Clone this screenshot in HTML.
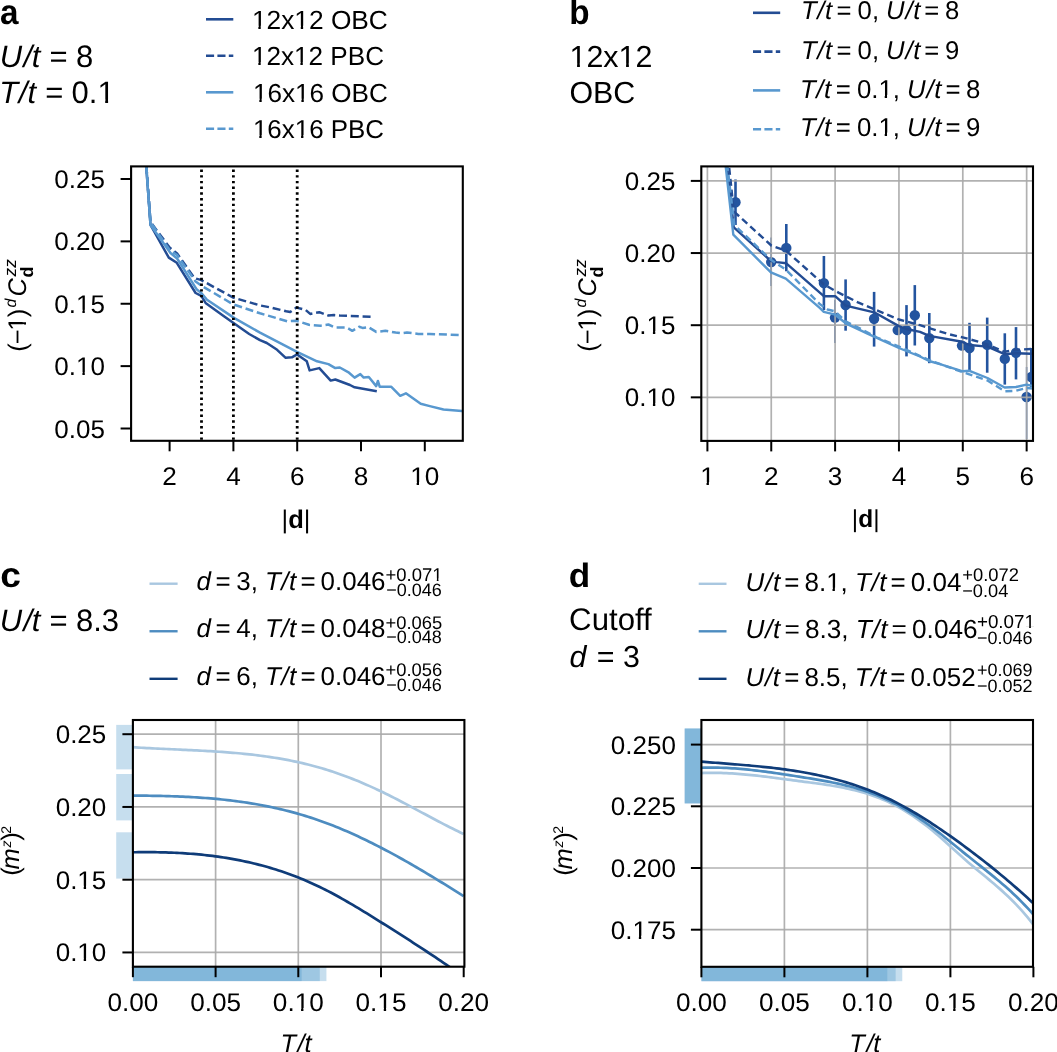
<!DOCTYPE html>
<html><head><meta charset="utf-8"><style>
html,body{margin:0;padding:0;background:#fff;}
svg{display:block;will-change:transform;}
text{fill:#000;text-rendering:geometricPrecision;}
</style></head><body>
<svg width="1057" height="1052" viewBox="0 0 1057 1052" font-family="Liberation Sans">
<rect width="1057" height="1052" fill="#fff"/>
<defs><clipPath id="ca"><rect x="131.1" y="166.4" width="331.7" height="274.4"/></clipPath><clipPath id="cb"><rect x="701.3" y="166.4" width="331.7" height="274.5"/></clipPath><clipPath id="cc"><rect x="132.9" y="720" width="331.5" height="246.7"/></clipPath><clipPath id="cd"><rect x="701.4" y="720" width="331.6" height="246.8"/></clipPath></defs>
<polyline points="137.7,48.0 150.5,225.0 168.8,257.6 176.8,262.8 195.6,293.0 201.3,295.9 205.9,303.3 222.9,315.5 232.1,322.1 249.2,334.0 260.0,340.1 266.8,343.0 277.1,349.8 285.7,357.8 291.9,357.3 297.1,354.4 306.8,361.3 309.6,370.4 319.3,368.1 330.7,380.6 335.3,379.5 350.0,385.0 354.6,387.3 376.8,391.3" fill="none" stroke="#234c93" stroke-width="2.5" stroke-linejoin="round" stroke-linecap="butt" clip-path="url(#ca)"/>
<polyline points="137.7,48.0 150.5,222.0 169.6,247.5 174.5,251.4 177.1,253.5 194.5,278.2 200.8,279.9 233.3,297.6 260.0,305.4 271.4,307.6 286.2,311.3 290.2,312.0 296.5,307.6 305.6,309.9 310.2,313.9 319.3,312.2 328.4,315.6 334.1,315.1 339.8,315.6 372.8,316.8" fill="none" stroke="#234c93" stroke-width="2.5" stroke-linejoin="round" stroke-linecap="butt" stroke-dasharray="8 3.8" clip-path="url(#ca)"/>
<polyline points="137.7,48.0 150.5,225.0 170.5,253.0 177.1,258.5 196.8,289.6 201.3,293.0 207.0,299.8 234.4,318.1 260.0,332.7 296.5,351.6 317.0,361.3 328.4,364.1 335.3,368.1 339.8,367.5 349.0,372.7 354.6,377.6 360.3,374.1 363.7,377.6 368.8,377.0 376.2,386.1 377.9,381.0 379.7,386.7 391.1,386.7 400.2,395.8 405.9,393.3 420.7,403.8 429.8,406.1 443.5,409.5 461.8,410.9 470.0,411.5" fill="none" stroke="#5898cf" stroke-width="2.5" stroke-linejoin="round" stroke-linecap="butt" clip-path="url(#ca)"/>
<polyline points="137.7,48.0 150.5,222.0 169.6,250.0 177.1,255.0 195.6,281.6 201.3,285.6 233.3,304.4 260.0,313.3 287.4,321.3 296.5,320.8 309.0,324.8 320.5,325.7 328.4,324.5 335.3,327.6 346.7,327.6 352.3,330.8 359.1,326.8 362.5,327.9 368.3,327.1 376.2,331.9 385.4,330.8 395.6,332.5 401.3,333.3 407.0,332.5 418.4,334.0 429.8,334.0 461.8,335.1 470.0,335.2" fill="none" stroke="#5898cf" stroke-width="2.5" stroke-linejoin="round" stroke-linecap="butt" stroke-dasharray="8 3.8" clip-path="url(#ca)"/>
<line x1="201.50" y1="169.50" x2="201.50" y2="440.80" stroke="#000" stroke-width="2.8" stroke-dasharray="2.4 3.3"/>
<line x1="233.40" y1="169.50" x2="233.40" y2="440.80" stroke="#000" stroke-width="2.8" stroke-dasharray="2.4 3.3"/>
<line x1="297.20" y1="169.50" x2="297.20" y2="440.80" stroke="#000" stroke-width="2.8" stroke-dasharray="2.4 3.3"/>
<rect x="131.10" y="166.40" width="331.70" height="274.40" fill="none" stroke="#000" stroke-width="2.1"/>
<line x1="120.60" y1="179.00" x2="131.10" y2="179.00" stroke="#000" stroke-width="2"/>
<text transform="translate(105.00,188.00) scale(1.0200,1)" font-size="25.5" text-anchor="end" font-weight="normal" font-style="normal">0.25</text>
<line x1="120.60" y1="241.38" x2="131.10" y2="241.38" stroke="#000" stroke-width="2"/>
<text transform="translate(105.00,250.38) scale(1.0200,1)" font-size="25.5" text-anchor="end" font-weight="normal" font-style="normal">0.20</text>
<line x1="120.60" y1="303.75" x2="131.10" y2="303.75" stroke="#000" stroke-width="2"/>
<text transform="translate(105.00,312.75) scale(1.0200,1)" font-size="25.5" text-anchor="end" font-weight="normal" font-style="normal">0.15</text>
<line x1="120.60" y1="366.12" x2="131.10" y2="366.12" stroke="#000" stroke-width="2"/>
<text transform="translate(105.00,375.12) scale(1.0200,1)" font-size="25.5" text-anchor="end" font-weight="normal" font-style="normal">0.10</text>
<line x1="120.60" y1="428.50" x2="131.10" y2="428.50" stroke="#000" stroke-width="2"/>
<text transform="translate(105.00,437.50) scale(1.0200,1)" font-size="25.5" text-anchor="end" font-weight="normal" font-style="normal">0.05</text>
<line x1="169.60" y1="440.80" x2="169.60" y2="451.30" stroke="#000" stroke-width="2"/>
<text transform="translate(169.60,485.00) scale(1.0250,1)" font-size="25.5" text-anchor="middle" font-weight="normal" font-style="normal">2</text>
<line x1="233.40" y1="440.80" x2="233.40" y2="451.30" stroke="#000" stroke-width="2"/>
<text transform="translate(233.40,485.00) scale(1.0250,1)" font-size="25.5" text-anchor="middle" font-weight="normal" font-style="normal">4</text>
<line x1="297.20" y1="440.80" x2="297.20" y2="451.30" stroke="#000" stroke-width="2"/>
<text transform="translate(297.20,485.00) scale(1.0250,1)" font-size="25.5" text-anchor="middle" font-weight="normal" font-style="normal">6</text>
<line x1="361.00" y1="440.80" x2="361.00" y2="451.30" stroke="#000" stroke-width="2"/>
<text transform="translate(361.00,485.00) scale(1.0250,1)" font-size="25.5" text-anchor="middle" font-weight="normal" font-style="normal">8</text>
<line x1="424.80" y1="440.80" x2="424.80" y2="451.30" stroke="#000" stroke-width="2"/>
<text transform="translate(424.80,485.00) scale(1.0250,1)" font-size="25.5" text-anchor="middle" font-weight="normal" font-style="normal">10</text>
<g clip-path="url(#cb)">
<line x1="735.50" y1="179.40" x2="735.50" y2="225.00" stroke="#23549f" stroke-width="2.6"/>
<circle cx="735.5" cy="202.2" r="5.2" fill="#23549f"/>
<line x1="771.20" y1="237.50" x2="771.20" y2="286.00" stroke="#23549f" stroke-width="1.5"/>
<circle cx="771.2" cy="262.1" r="5.2" fill="#23549f"/>
<line x1="786.30" y1="223.90" x2="786.30" y2="271.30" stroke="#23549f" stroke-width="2.6"/>
<circle cx="786.3" cy="247.9" r="5.2" fill="#23549f"/>
<line x1="823.90" y1="256.00" x2="823.90" y2="310.10" stroke="#23549f" stroke-width="2.6"/>
<circle cx="823.9" cy="283.1" r="5.2" fill="#23549f"/>
<line x1="835.00" y1="300.00" x2="835.00" y2="343.00" stroke="#23549f" stroke-width="1.5"/>
<circle cx="835.0" cy="317.6" r="5.2" fill="#23549f"/>
<line x1="845.60" y1="279.40" x2="845.60" y2="330.70" stroke="#23549f" stroke-width="2.6"/>
<circle cx="845.6" cy="305.0" r="5.2" fill="#23549f"/>
<line x1="874.10" y1="291.90" x2="874.10" y2="346.60" stroke="#23549f" stroke-width="2.6"/>
<circle cx="874.1" cy="318.7" r="5.2" fill="#23549f"/>
<circle cx="897.7" cy="330.1" r="5.2" fill="#23549f"/>
<line x1="906.50" y1="305.10" x2="906.50" y2="356.40" stroke="#23549f" stroke-width="2.6"/>
<circle cx="906.5" cy="330.1" r="5.2" fill="#23549f"/>
<line x1="914.80" y1="285.10" x2="914.80" y2="345.50" stroke="#23549f" stroke-width="2.6"/>
<circle cx="914.8" cy="315.3" r="5.2" fill="#23549f"/>
<line x1="929.30" y1="313.00" x2="929.30" y2="363.20" stroke="#23549f" stroke-width="2.6"/>
<circle cx="929.3" cy="338.1" r="5.2" fill="#23549f"/>
<circle cx="962.0" cy="345.6" r="5.2" fill="#23549f"/>
<line x1="969.50" y1="322.80" x2="969.50" y2="370.30" stroke="#23549f" stroke-width="2.6"/>
<circle cx="969.5" cy="348.0" r="5.2" fill="#23549f"/>
<line x1="987.20" y1="317.60" x2="987.20" y2="372.70" stroke="#23549f" stroke-width="2.6"/>
<circle cx="987.2" cy="344.7" r="5.2" fill="#23549f"/>
<line x1="1004.80" y1="333.30" x2="1004.80" y2="384.60" stroke="#23549f" stroke-width="2.6"/>
<circle cx="1004.8" cy="358.9" r="5.2" fill="#23549f"/>
<line x1="1016.00" y1="327.10" x2="1016.00" y2="379.40" stroke="#23549f" stroke-width="2.6"/>
<circle cx="1016.0" cy="352.8" r="5.2" fill="#23549f"/>
<line x1="1031.30" y1="348.00" x2="1031.30" y2="387.00" stroke="#23549f" stroke-width="2.6"/>
<circle cx="1031.3" cy="377.0" r="5.2" fill="#23549f"/>
<line x1="1026.60" y1="367.00" x2="1026.60" y2="439.00" stroke="#23549f" stroke-width="1.5"/>
<circle cx="1026.6" cy="397.0" r="5.2" fill="#23549f"/>
</g>
<line x1="707.40" y1="166.40" x2="707.40" y2="440.90" stroke="#a9a9a9" stroke-width="1.7" stroke-opacity="0.9"/>
<line x1="771.25" y1="166.40" x2="771.25" y2="440.90" stroke="#a9a9a9" stroke-width="1.7" stroke-opacity="0.9"/>
<line x1="835.10" y1="166.40" x2="835.10" y2="440.90" stroke="#a9a9a9" stroke-width="1.7" stroke-opacity="0.9"/>
<line x1="898.95" y1="166.40" x2="898.95" y2="440.90" stroke="#a9a9a9" stroke-width="1.7" stroke-opacity="0.9"/>
<line x1="962.80" y1="166.40" x2="962.80" y2="440.90" stroke="#a9a9a9" stroke-width="1.7" stroke-opacity="0.9"/>
<line x1="1026.65" y1="166.40" x2="1026.65" y2="440.90" stroke="#a9a9a9" stroke-width="1.7" stroke-opacity="0.9"/>
<line x1="701.30" y1="180.90" x2="1033.00" y2="180.90" stroke="#a9a9a9" stroke-width="1.7" stroke-opacity="0.9"/>
<line x1="701.30" y1="253.05" x2="1033.00" y2="253.05" stroke="#a9a9a9" stroke-width="1.7" stroke-opacity="0.9"/>
<line x1="701.30" y1="325.20" x2="1033.00" y2="325.20" stroke="#a9a9a9" stroke-width="1.7" stroke-opacity="0.9"/>
<line x1="701.30" y1="397.35" x2="1033.00" y2="397.35" stroke="#a9a9a9" stroke-width="1.7" stroke-opacity="0.9"/>
<polyline points="707.4,-10.0 733.8,227.3 770.9,261.0 776.6,262.1 786.3,263.3 823.8,296.2 835.2,296.2 845.7,305.7 874.2,312.3 898.9,326.1 906.5,329.0 920.0,331.8 929.3,335.9 962.1,341.8 969.5,345.0 987.5,346.6 1004.6,354.2 1016.0,353.2 1031.3,353.7 1040.0,353.7" fill="none" stroke="#234c93" stroke-width="2.4" stroke-linejoin="round" stroke-linecap="butt" clip-path="url(#cb)"/>
<polyline points="707.4,-40.0 733.8,211.4 771.3,245.5 786.3,251.0 823.9,284.5 839.0,292.9 858.0,302.4 877.0,310.4 898.9,319.5 920.0,325.2 948.4,334.1 962.7,337.4 982.8,342.8 1004.6,351.8 1016.0,349.9 1031.3,349.0 1040.0,349.0" fill="none" stroke="#234c93" stroke-width="2.4" stroke-linejoin="round" stroke-linecap="butt" stroke-dasharray="7 4" clip-path="url(#cb)"/>
<polyline points="707.4,2.0 733.3,234.7 770.9,272.4 785.8,278.7 820.0,308.1 823.8,311.9 835.2,314.7 845.7,323.3 867.5,333.7 898.9,348.0 920.0,356.5 929.0,361.0 940.0,364.2 962.8,371.3 969.5,370.8 987.5,378.0 1004.6,387.5 1016.0,387.0 1026.5,384.6 1031.3,385.6 1040.0,385.6" fill="none" stroke="#5898cf" stroke-width="2.4" stroke-linejoin="round" stroke-linecap="butt" clip-path="url(#cb)"/>
<polyline points="707.4,0.0 734.4,225.0 771.2,260.0 786.3,270.0 820.0,304.3 827.6,309.5 835.2,311.4 845.7,321.4 862.8,329.9 877.0,337.5 899.0,346.5 929.0,360.0 962.8,372.2 987.5,380.5 1004.6,391.3 1016.0,390.8 1026.5,387.9 1040.0,389.0" fill="none" stroke="#5898cf" stroke-width="2.4" stroke-linejoin="round" stroke-linecap="butt" stroke-dasharray="7 4" clip-path="url(#cb)"/>
<rect x="701.30" y="166.40" width="331.70" height="274.50" fill="none" stroke="#000" stroke-width="2.1"/>
<line x1="690.80" y1="180.90" x2="701.30" y2="180.90" stroke="#000" stroke-width="2"/>
<text transform="translate(675.50,189.90) scale(1.0200,1)" font-size="25.5" text-anchor="end" font-weight="normal" font-style="normal">0.25</text>
<line x1="690.80" y1="253.05" x2="701.30" y2="253.05" stroke="#000" stroke-width="2"/>
<text transform="translate(675.50,262.05) scale(1.0200,1)" font-size="25.5" text-anchor="end" font-weight="normal" font-style="normal">0.20</text>
<line x1="690.80" y1="325.20" x2="701.30" y2="325.20" stroke="#000" stroke-width="2"/>
<text transform="translate(675.50,334.20) scale(1.0200,1)" font-size="25.5" text-anchor="end" font-weight="normal" font-style="normal">0.15</text>
<line x1="690.80" y1="397.35" x2="701.30" y2="397.35" stroke="#000" stroke-width="2"/>
<text transform="translate(675.50,406.35) scale(1.0200,1)" font-size="25.5" text-anchor="end" font-weight="normal" font-style="normal">0.10</text>
<line x1="707.40" y1="440.90" x2="707.40" y2="451.40" stroke="#000" stroke-width="2"/>
<text transform="translate(707.40,485.00) scale(1.0250,1)" font-size="25.5" text-anchor="middle" font-weight="normal" font-style="normal">1</text>
<line x1="771.25" y1="440.90" x2="771.25" y2="451.40" stroke="#000" stroke-width="2"/>
<text transform="translate(771.25,485.00) scale(1.0250,1)" font-size="25.5" text-anchor="middle" font-weight="normal" font-style="normal">2</text>
<line x1="835.10" y1="440.90" x2="835.10" y2="451.40" stroke="#000" stroke-width="2"/>
<text transform="translate(835.10,485.00) scale(1.0250,1)" font-size="25.5" text-anchor="middle" font-weight="normal" font-style="normal">3</text>
<line x1="898.95" y1="440.90" x2="898.95" y2="451.40" stroke="#000" stroke-width="2"/>
<text transform="translate(898.95,485.00) scale(1.0250,1)" font-size="25.5" text-anchor="middle" font-weight="normal" font-style="normal">4</text>
<line x1="962.80" y1="440.90" x2="962.80" y2="451.40" stroke="#000" stroke-width="2"/>
<text transform="translate(962.80,485.00) scale(1.0250,1)" font-size="25.5" text-anchor="middle" font-weight="normal" font-style="normal">5</text>
<line x1="1026.65" y1="440.90" x2="1026.65" y2="451.40" stroke="#000" stroke-width="2"/>
<text transform="translate(1026.65,485.00) scale(1.0250,1)" font-size="25.5" text-anchor="middle" font-weight="normal" font-style="normal">6</text>
<rect x="116.20" y="724.90" width="16.70" height="44.50" fill="#4292c6" fill-opacity="0.3"/>
<rect x="116.20" y="774.00" width="16.70" height="46.40" fill="#4292c6" fill-opacity="0.3"/>
<rect x="116.20" y="832.30" width="16.70" height="46.30" fill="#4292c6" fill-opacity="0.3"/>
<rect x="132.90" y="966.70" width="193.52" height="14.40" fill="#4292c6" fill-opacity="0.3"/>
<rect x="132.90" y="966.70" width="186.90" height="14.40" fill="#4292c6" fill-opacity="0.3"/>
<rect x="132.90" y="966.70" width="168.71" height="14.40" fill="#4292c6" fill-opacity="0.3"/>
<line x1="215.60" y1="720.00" x2="215.60" y2="966.70" stroke="#a9a9a9" stroke-width="1.7" stroke-opacity="0.9"/>
<line x1="298.30" y1="720.00" x2="298.30" y2="966.70" stroke="#a9a9a9" stroke-width="1.7" stroke-opacity="0.9"/>
<line x1="381.00" y1="720.00" x2="381.00" y2="966.70" stroke="#a9a9a9" stroke-width="1.7" stroke-opacity="0.9"/>
<line x1="132.90" y1="734.20" x2="464.40" y2="734.20" stroke="#a9a9a9" stroke-width="1.7" stroke-opacity="0.9"/>
<line x1="132.90" y1="806.95" x2="464.40" y2="806.95" stroke="#a9a9a9" stroke-width="1.7" stroke-opacity="0.9"/>
<line x1="132.90" y1="879.70" x2="464.40" y2="879.70" stroke="#a9a9a9" stroke-width="1.7" stroke-opacity="0.9"/>
<line x1="132.90" y1="952.45" x2="464.40" y2="952.45" stroke="#a9a9a9" stroke-width="1.7" stroke-opacity="0.9"/>
<polyline points="132.90,747.22 135.68,747.40 138.46,747.58 141.24,747.74 144.02,747.90 146.79,748.05 149.57,748.20 152.35,748.35 155.13,748.49 157.91,748.63 160.69,748.76 163.47,748.89 166.25,749.02 169.03,749.15 171.81,749.27 174.58,749.40 177.36,749.52 180.14,749.65 182.92,749.78 185.70,749.90 188.48,750.03 191.26,750.17 194.04,750.30 196.82,750.44 199.60,750.58 202.37,750.73 205.15,750.88 207.93,751.04 210.71,751.20 213.49,751.37 216.27,751.55 219.05,751.73 221.83,751.93 224.61,752.13 227.39,752.34 230.16,752.55 232.94,752.78 235.72,753.02 238.50,753.27 241.28,753.53 244.06,753.81 246.84,754.09 249.62,754.39 252.40,754.70 255.18,755.03 257.95,755.37 260.73,755.72 263.51,756.09 266.29,756.48 269.07,756.88 271.85,757.30 274.63,757.74 277.41,758.19 280.19,758.66 282.97,759.16 285.74,759.67 288.52,760.20 291.30,760.75 294.08,761.32 296.86,761.92 299.64,762.53 302.42,763.17 305.20,763.83 307.98,764.52 310.76,765.22 313.53,765.96 316.31,766.71 319.09,767.50 321.87,768.31 324.65,769.14 327.43,770.00 330.21,770.89 332.99,771.80 335.77,772.73 338.55,773.70 341.32,774.68 344.10,775.69 346.88,776.73 349.66,777.79 352.44,778.87 355.22,779.98 358.00,781.11 360.78,782.27 363.56,783.45 366.34,784.65 369.11,785.87 371.89,787.12 374.67,788.39 377.45,789.68 380.23,791.00 383.01,792.33 385.79,793.69 388.57,795.07 391.35,796.47 394.13,797.88 396.90,799.31 399.68,800.75 402.46,802.20 405.24,803.66 408.02,805.14 410.80,806.61 413.58,808.10 416.36,809.59 419.14,811.08 421.92,812.57 424.69,814.06 427.47,815.55 430.25,817.03 433.03,818.51 435.81,819.99 438.59,821.45 441.37,822.90 444.15,824.34 446.93,825.77 449.71,827.19 452.48,828.58 455.26,829.96 458.04,831.32 460.82,832.66 463.60,833.97" fill="none" stroke="#a9c7e0" stroke-width="2.7" stroke-linejoin="round" clip-path="url(#cc)"/>
<polyline points="132.90,795.63 135.68,795.64 138.46,795.65 141.24,795.67 144.02,795.69 146.79,795.72 149.57,795.75 152.35,795.79 155.13,795.83 157.91,795.88 160.69,795.94 163.47,796.00 166.25,796.07 169.03,796.15 171.81,796.24 174.58,796.33 177.36,796.43 180.14,796.54 182.92,796.66 185.70,796.79 188.48,796.93 191.26,797.08 194.04,797.24 196.82,797.41 199.60,797.60 202.37,797.79 205.15,797.99 207.93,798.21 210.71,798.44 213.49,798.68 216.27,798.94 219.05,799.20 221.83,799.49 224.61,799.78 227.39,800.09 230.16,800.42 232.94,800.75 235.72,801.11 238.50,801.48 241.28,801.86 244.06,802.27 246.84,802.69 249.62,803.12 252.40,803.57 255.18,804.04 257.95,804.53 260.73,805.04 263.51,805.56 266.29,806.10 269.07,806.67 271.85,807.25 274.63,807.85 277.41,808.47 280.19,809.11 282.97,809.78 285.74,810.46 288.52,811.16 291.30,811.89 294.08,812.64 296.86,813.41 299.64,814.20 302.42,815.02 305.20,815.86 307.98,816.72 310.76,817.61 313.53,818.52 316.31,819.46 319.09,820.42 321.87,821.40 324.65,822.41 327.43,823.45 330.21,824.51 332.99,825.59 335.77,826.70 338.55,827.83 341.32,828.98 344.10,830.16 346.88,831.36 349.66,832.57 352.44,833.81 355.22,835.07 358.00,836.35 360.78,837.66 363.56,838.98 366.34,840.31 369.11,841.67 371.89,843.05 374.67,844.44 377.45,845.85 380.23,847.28 383.01,848.73 385.79,850.19 388.57,851.67 391.35,853.16 394.13,854.67 396.90,856.19 399.68,857.73 402.46,859.28 405.24,860.85 408.02,862.42 410.80,864.01 413.58,865.62 416.36,867.23 419.14,868.86 421.92,870.50 424.69,872.15 427.47,873.80 430.25,875.47 433.03,877.15 435.81,878.84 438.59,880.54 441.37,882.24 444.15,883.96 446.93,885.68 449.71,887.40 452.48,889.14 455.26,890.88 458.04,892.63 460.82,894.38 463.60,896.14" fill="none" stroke="#4d8cc0" stroke-width="2.7" stroke-linejoin="round" clip-path="url(#cc)"/>
<polyline points="132.90,852.27 135.65,852.23 138.40,852.20 141.15,852.18 143.89,852.17 146.64,852.16 149.39,852.17 152.14,852.19 154.89,852.21 157.64,852.25 160.39,852.31 163.14,852.37 165.88,852.45 168.63,852.53 171.38,852.64 174.13,852.75 176.88,852.88 179.63,853.02 182.38,853.18 185.13,853.35 187.87,853.54 190.62,853.74 193.37,853.96 196.12,854.19 198.87,854.44 201.62,854.71 204.37,854.99 207.12,855.30 209.86,855.62 212.61,855.95 215.36,856.31 218.11,856.69 220.86,857.08 223.61,857.50 226.36,857.93 229.11,858.38 231.85,858.86 234.60,859.36 237.35,859.87 240.10,860.41 242.85,860.97 245.60,861.56 248.35,862.16 251.10,862.79 253.84,863.44 256.59,864.12 259.34,864.82 262.09,865.54 264.84,866.29 267.59,867.07 270.34,867.87 273.09,868.69 275.83,869.54 278.58,870.42 281.33,871.33 284.08,872.26 286.83,873.22 289.58,874.21 292.33,875.22 295.08,876.26 297.82,877.34 300.57,878.44 303.32,879.57 306.07,880.73 308.82,881.92 311.57,883.15 314.32,884.40 317.07,885.68 319.81,887.00 322.56,888.35 325.31,889.73 328.06,891.13 330.81,892.57 333.56,894.03 336.31,895.52 339.06,897.03 341.80,898.57 344.55,900.13 347.30,901.71 350.05,903.30 352.80,904.92 355.55,906.55 358.30,908.20 361.05,909.86 363.79,911.53 366.54,913.22 369.29,914.91 372.04,916.62 374.79,918.33 377.54,920.05 380.29,921.77 383.04,923.50 385.78,925.23 388.53,926.96 391.28,928.70 394.03,930.44 396.78,932.18 399.53,933.93 402.28,935.69 405.03,937.45 407.77,939.21 410.52,940.98 413.27,942.76 416.02,944.55 418.77,946.34 421.52,948.13 424.27,949.94 427.02,951.75 429.76,953.57 432.51,955.40 435.26,957.23 438.01,959.08 440.76,960.93 443.51,962.80 446.26,964.67 449.01,966.56 451.75,968.45 454.50,970.35 457.25,972.27 460.00,974.20" fill="none" stroke="#0f3c79" stroke-width="2.7" stroke-linejoin="round" clip-path="url(#cc)"/>
<rect x="132.90" y="720.00" width="331.50" height="246.70" fill="none" stroke="#000" stroke-width="2.1"/>
<line x1="122.40" y1="734.20" x2="132.90" y2="734.20" stroke="#000" stroke-width="2"/>
<text transform="translate(106.30,743.20) scale(1.0200,1)" font-size="25.5" text-anchor="end" font-weight="normal" font-style="normal">0.25</text>
<line x1="122.40" y1="806.95" x2="132.90" y2="806.95" stroke="#000" stroke-width="2"/>
<text transform="translate(106.30,815.95) scale(1.0200,1)" font-size="25.5" text-anchor="end" font-weight="normal" font-style="normal">0.20</text>
<line x1="122.40" y1="879.70" x2="132.90" y2="879.70" stroke="#000" stroke-width="2"/>
<text transform="translate(106.30,888.70) scale(1.0200,1)" font-size="25.5" text-anchor="end" font-weight="normal" font-style="normal">0.15</text>
<line x1="122.40" y1="952.45" x2="132.90" y2="952.45" stroke="#000" stroke-width="2"/>
<text transform="translate(106.30,961.45) scale(1.0200,1)" font-size="25.5" text-anchor="end" font-weight="normal" font-style="normal">0.10</text>
<line x1="132.90" y1="966.70" x2="132.90" y2="977.20" stroke="#000" stroke-width="2"/>
<text transform="translate(132.90,1011.00) scale(1.0250,1)" font-size="25.5" text-anchor="middle" font-weight="normal" font-style="normal">0.00</text>
<line x1="215.60" y1="966.70" x2="215.60" y2="977.20" stroke="#000" stroke-width="2"/>
<text transform="translate(215.60,1011.00) scale(1.0250,1)" font-size="25.5" text-anchor="middle" font-weight="normal" font-style="normal">0.05</text>
<line x1="298.30" y1="966.70" x2="298.30" y2="977.20" stroke="#000" stroke-width="2"/>
<text transform="translate(298.30,1011.00) scale(1.0250,1)" font-size="25.5" text-anchor="middle" font-weight="normal" font-style="normal">0.10</text>
<line x1="381.00" y1="966.70" x2="381.00" y2="977.20" stroke="#000" stroke-width="2"/>
<text transform="translate(381.00,1011.00) scale(1.0250,1)" font-size="25.5" text-anchor="middle" font-weight="normal" font-style="normal">0.15</text>
<line x1="463.70" y1="966.70" x2="463.70" y2="977.20" stroke="#000" stroke-width="2"/>
<text transform="translate(463.70,1011.00) scale(1.0250,1)" font-size="25.5" text-anchor="middle" font-weight="normal" font-style="normal">0.20</text>
<rect x="684.70" y="728.50" width="16.70" height="74.90" fill="#4292c6" fill-opacity="0.3"/>
<rect x="684.70" y="728.50" width="16.70" height="74.90" fill="#4292c6" fill-opacity="0.3"/>
<rect x="684.70" y="728.50" width="16.70" height="74.90" fill="#4292c6" fill-opacity="0.3"/>
<rect x="701.40" y="966.80" width="200.86" height="14.40" fill="#4292c6" fill-opacity="0.3"/>
<rect x="701.40" y="966.80" width="194.22" height="14.40" fill="#4292c6" fill-opacity="0.3"/>
<rect x="701.40" y="966.80" width="185.92" height="14.40" fill="#4292c6" fill-opacity="0.3"/>
<line x1="784.40" y1="720.00" x2="784.40" y2="966.80" stroke="#a9a9a9" stroke-width="1.7" stroke-opacity="0.9"/>
<line x1="867.40" y1="720.00" x2="867.40" y2="966.80" stroke="#a9a9a9" stroke-width="1.7" stroke-opacity="0.9"/>
<line x1="950.40" y1="720.00" x2="950.40" y2="966.80" stroke="#a9a9a9" stroke-width="1.7" stroke-opacity="0.9"/>
<line x1="701.40" y1="744.60" x2="1033.00" y2="744.60" stroke="#a9a9a9" stroke-width="1.7" stroke-opacity="0.9"/>
<line x1="701.40" y1="806.30" x2="1033.00" y2="806.30" stroke="#a9a9a9" stroke-width="1.7" stroke-opacity="0.9"/>
<line x1="701.40" y1="868.00" x2="1033.00" y2="868.00" stroke="#a9a9a9" stroke-width="1.7" stroke-opacity="0.9"/>
<line x1="701.40" y1="929.70" x2="1033.00" y2="929.70" stroke="#a9a9a9" stroke-width="1.7" stroke-opacity="0.9"/>
<polyline points="701.40,773.06 704.19,772.96 706.97,772.89 709.76,772.85 712.55,772.84 715.33,772.86 718.12,772.90 720.91,772.97 723.69,773.06 726.48,773.18 729.27,773.31 732.05,773.47 734.84,773.65 737.63,773.85 740.41,774.07 743.20,774.30 745.98,774.56 748.77,774.82 751.56,775.10 754.34,775.40 757.13,775.70 759.92,776.02 762.70,776.35 765.49,776.68 768.28,777.03 771.06,777.38 773.85,777.74 776.64,778.10 779.42,778.47 782.21,778.84 785.00,779.22 787.78,779.59 790.57,779.96 793.36,780.34 796.14,780.71 798.93,781.08 801.72,781.44 804.50,781.80 807.29,782.16 810.08,782.52 812.86,782.89 815.65,783.26 818.44,783.64 821.22,784.03 824.01,784.43 826.79,784.84 829.58,785.27 832.37,785.72 835.15,786.19 837.94,786.68 840.73,787.20 843.51,787.74 846.30,788.32 849.09,788.92 851.87,789.56 854.66,790.24 857.45,790.95 860.23,791.70 863.02,792.49 865.81,793.33 868.59,794.22 871.38,795.15 874.17,796.13 876.95,797.17 879.74,798.26 882.53,799.41 885.31,800.62 888.10,801.89 890.89,803.22 893.67,804.62 896.46,806.08 899.25,807.60 902.03,809.19 904.82,810.85 907.61,812.56 910.39,814.34 913.18,816.18 915.96,818.08 918.75,820.05 921.54,822.07 924.32,824.15 927.11,826.30 929.90,828.50 932.68,830.77 935.47,833.09 938.26,835.47 941.04,837.90 943.83,840.38 946.62,842.89 949.40,845.42 952.19,847.96 954.98,850.51 957.76,853.05 960.55,855.56 963.34,858.05 966.12,860.50 968.91,862.91 971.70,865.27 974.48,867.61 977.27,869.92 980.06,872.22 982.84,874.52 985.63,876.82 988.42,879.12 991.20,881.45 993.99,883.81 996.77,886.20 999.56,888.63 1002.35,891.12 1005.13,893.67 1007.92,896.28 1010.71,898.97 1013.49,901.75 1016.28,904.62 1019.07,907.59 1021.85,910.67 1024.64,913.87 1027.43,917.20 1030.21,920.66 1033.00,924.26" fill="none" stroke="#a9c7e0" stroke-width="2.7" stroke-linejoin="round" clip-path="url(#cd)"/>
<polyline points="701.40,767.77 704.19,767.68 706.97,767.62 709.76,767.59 712.55,767.59 715.33,767.62 718.12,767.67 720.91,767.75 723.69,767.85 726.48,767.97 729.27,768.11 732.05,768.28 734.84,768.47 737.63,768.68 740.41,768.91 743.20,769.15 745.98,769.42 748.77,769.70 751.56,769.99 754.34,770.30 757.13,770.63 759.92,770.97 762.70,771.32 765.49,771.68 768.28,772.05 771.06,772.44 773.85,772.83 776.64,773.23 779.42,773.64 782.21,774.06 785.00,774.48 787.78,774.91 790.57,775.34 793.36,775.78 796.14,776.22 798.93,776.66 801.72,777.10 804.50,777.55 807.29,777.99 810.08,778.45 812.86,778.90 815.65,779.37 818.44,779.85 821.22,780.34 824.01,780.85 826.79,781.37 829.58,781.90 832.37,782.46 835.15,783.04 837.94,783.64 840.73,784.26 843.51,784.91 846.30,785.59 849.09,786.29 851.87,787.03 854.66,787.80 857.45,788.60 860.23,789.44 863.02,790.32 865.81,791.24 868.59,792.20 871.38,793.20 874.17,794.24 876.95,795.33 879.74,796.47 882.53,797.66 885.31,798.91 888.10,800.20 890.89,801.55 893.67,802.95 896.46,804.41 899.25,805.93 902.03,807.49 904.82,809.11 907.61,810.77 910.39,812.49 913.18,814.25 915.96,816.06 918.75,817.92 921.54,819.82 924.32,821.76 927.11,823.75 929.90,825.78 932.68,827.85 935.47,829.96 938.26,832.10 941.04,834.28 943.83,836.49 946.62,838.73 949.40,840.98 952.19,843.24 954.98,845.52 957.76,847.79 960.55,850.07 963.34,852.33 966.12,854.58 968.91,856.81 971.70,859.03 974.48,861.24 977.27,863.45 980.06,865.65 982.84,867.87 985.63,870.09 988.42,872.33 991.20,874.59 993.99,876.88 996.77,879.19 999.56,881.54 1002.35,883.92 1005.13,886.35 1007.92,888.83 1010.71,891.36 1013.49,893.95 1016.28,896.60 1019.07,899.32 1021.85,902.11 1024.64,904.97 1027.43,907.92 1030.21,910.95 1033.00,914.08" fill="none" stroke="#4d8cc0" stroke-width="2.7" stroke-linejoin="round" clip-path="url(#cd)"/>
<polyline points="701.40,761.63 704.19,761.86 706.97,762.09 709.76,762.31 712.55,762.53 715.33,762.75 718.12,762.97 720.91,763.19 723.69,763.41 726.48,763.62 729.27,763.84 732.05,764.06 734.84,764.29 737.63,764.51 740.41,764.75 743.20,764.98 745.98,765.22 748.77,765.46 751.56,765.72 754.34,765.97 757.13,766.24 759.92,766.51 762.70,766.80 765.49,767.09 768.28,767.39 771.06,767.70 773.85,768.02 776.64,768.36 779.42,768.71 782.21,769.07 785.00,769.44 787.78,769.83 790.57,770.23 793.36,770.65 796.14,771.08 798.93,771.53 801.72,772.00 804.50,772.49 807.29,772.99 810.08,773.52 812.86,774.06 815.65,774.62 818.44,775.21 821.22,775.82 824.01,776.45 826.79,777.10 829.58,777.77 832.37,778.47 835.15,779.20 837.94,779.94 840.73,780.72 843.51,781.52 846.30,782.35 849.09,783.21 851.87,784.09 854.66,785.01 857.45,785.95 860.23,786.92 863.02,787.93 865.81,788.97 868.59,790.04 871.38,791.14 874.17,792.27 876.95,793.44 879.74,794.64 882.53,795.88 885.31,797.16 888.10,798.47 890.89,799.81 893.67,801.20 896.46,802.62 899.25,804.08 902.03,805.57 904.82,807.09 907.61,808.65 910.39,810.24 913.18,811.87 915.96,813.52 918.75,815.20 921.54,816.91 924.32,818.65 927.11,820.42 929.90,822.22 932.68,824.03 935.47,825.88 938.26,827.75 941.04,829.64 943.83,831.55 946.62,833.49 949.40,835.44 952.19,837.42 954.98,839.41 957.76,841.43 960.55,843.46 963.34,845.51 966.12,847.57 968.91,849.65 971.70,851.74 974.48,853.85 977.27,855.98 980.06,858.13 982.84,860.29 985.63,862.47 988.42,864.67 991.20,866.90 993.99,869.14 996.77,871.40 999.56,873.69 1002.35,875.99 1005.13,878.32 1007.92,880.68 1010.71,883.06 1013.49,885.46 1016.28,887.89 1019.07,890.34 1021.85,892.82 1024.64,895.33 1027.43,897.86 1030.21,900.42 1033.00,903.02" fill="none" stroke="#0f3c79" stroke-width="2.7" stroke-linejoin="round" clip-path="url(#cd)"/>
<rect x="701.40" y="720.00" width="331.60" height="246.80" fill="none" stroke="#000" stroke-width="2.1"/>
<line x1="690.90" y1="744.60" x2="701.40" y2="744.60" stroke="#000" stroke-width="2"/>
<text transform="translate(675.90,753.60) scale(1.0200,1)" font-size="25.5" text-anchor="end" font-weight="normal" font-style="normal">0.250</text>
<line x1="690.90" y1="806.30" x2="701.40" y2="806.30" stroke="#000" stroke-width="2"/>
<text transform="translate(675.90,815.30) scale(1.0200,1)" font-size="25.5" text-anchor="end" font-weight="normal" font-style="normal">0.225</text>
<line x1="690.90" y1="868.00" x2="701.40" y2="868.00" stroke="#000" stroke-width="2"/>
<text transform="translate(675.90,877.00) scale(1.0200,1)" font-size="25.5" text-anchor="end" font-weight="normal" font-style="normal">0.200</text>
<line x1="690.90" y1="929.70" x2="701.40" y2="929.70" stroke="#000" stroke-width="2"/>
<text transform="translate(675.90,938.70) scale(1.0200,1)" font-size="25.5" text-anchor="end" font-weight="normal" font-style="normal">0.175</text>
<line x1="701.40" y1="966.80" x2="701.40" y2="977.30" stroke="#000" stroke-width="2"/>
<text transform="translate(701.40,1011.00) scale(1.0250,1)" font-size="25.5" text-anchor="middle" font-weight="normal" font-style="normal">0.00</text>
<line x1="784.40" y1="966.80" x2="784.40" y2="977.30" stroke="#000" stroke-width="2"/>
<text transform="translate(784.40,1011.00) scale(1.0250,1)" font-size="25.5" text-anchor="middle" font-weight="normal" font-style="normal">0.05</text>
<line x1="867.40" y1="966.80" x2="867.40" y2="977.30" stroke="#000" stroke-width="2"/>
<text transform="translate(867.40,1011.00) scale(1.0250,1)" font-size="25.5" text-anchor="middle" font-weight="normal" font-style="normal">0.10</text>
<line x1="950.40" y1="966.80" x2="950.40" y2="977.30" stroke="#000" stroke-width="2"/>
<text transform="translate(950.40,1011.00) scale(1.0250,1)" font-size="25.5" text-anchor="middle" font-weight="normal" font-style="normal">0.15</text>
<line x1="1033.40" y1="966.80" x2="1033.40" y2="977.30" stroke="#000" stroke-width="2"/>
<text transform="translate(1033.40,1011.00) scale(1.0250,1)" font-size="25.5" text-anchor="middle" font-weight="normal" font-style="normal">0.20</text>
<line x1="206.00" y1="19.30" x2="233.30" y2="19.30" stroke="#234c93" stroke-width="2.6"/>
<line x1="206.00" y1="55.80" x2="233.30" y2="55.80" stroke="#234c93" stroke-width="2.6" stroke-dasharray="8.1 3.3"/>
<line x1="206.00" y1="92.30" x2="233.30" y2="92.30" stroke="#5898cf" stroke-width="2.6"/>
<line x1="206.00" y1="128.80" x2="233.30" y2="128.80" stroke="#5898cf" stroke-width="2.6" stroke-dasharray="8.1 3.3"/>
<line x1="753.00" y1="12.80" x2="780.20" y2="12.80" stroke="#234c93" stroke-width="2.6"/>
<line x1="753.00" y1="51.60" x2="780.20" y2="51.60" stroke="#234c93" stroke-width="2.6" stroke-dasharray="8.1 3.3"/>
<line x1="753.00" y1="90.40" x2="780.20" y2="90.40" stroke="#5898cf" stroke-width="2.6"/>
<line x1="753.00" y1="129.20" x2="780.20" y2="129.20" stroke="#5898cf" stroke-width="2.6" stroke-dasharray="8.1 3.3"/>
<line x1="149.50" y1="583.70" x2="177.60" y2="583.70" stroke="#a9c7e0" stroke-width="2.4"/>
<line x1="149.50" y1="631.25" x2="177.60" y2="631.25" stroke="#4d8cc0" stroke-width="2.4"/>
<line x1="149.50" y1="678.80" x2="177.60" y2="678.80" stroke="#0f3c79" stroke-width="2.4"/>
<line x1="698.70" y1="583.80" x2="726.50" y2="583.80" stroke="#a9c7e0" stroke-width="2.4"/>
<line x1="698.70" y1="631.30" x2="726.50" y2="631.30" stroke="#4d8cc0" stroke-width="2.4"/>
<line x1="698.70" y1="678.80" x2="726.50" y2="678.80" stroke="#0f3c79" stroke-width="2.4"/>
<g id="lab_a" transform="matrix(0.95060 0 0 1.00120 0.035 -0.019)"><text x="0.00" y="24.40" font-size="35" text-anchor="start" font-weight="bold" font-style="normal">a</text></g>
<g id="lab_b" transform="matrix(0.95060 0 0 1.00120 27.672 0.014)"><text x="569.60" y="24.20" font-size="35" text-anchor="start" font-weight="bold" font-style="normal">b</text></g>
<g id="lab_c" transform="matrix(1.06243 0 0 1.00366 -0.133 -2.163)"><text x="0.40" y="587.30" font-size="35" text-anchor="start" font-weight="bold" font-style="normal">c</text></g>
<g id="lab_d" transform="matrix(1.00310 0 0 0.96476 -1.783 20.721)"><text x="568.90" y="587.20" font-size="35" text-anchor="start" font-weight="bold" font-style="normal">d</text></g>
<g id="ann_U8"><text y="67.10" font-size="31"><tspan x="-0.33" font-style="italic">U</tspan><tspan x="23.50" font-style="italic">/</tspan><tspan x="31.80" font-style="italic">t</tspan><tspan x="49.55">=</tspan><tspan x="75.90">8</tspan></text></g>
<g id="ann_T01"><text y="103.10" font-size="31"><tspan x="-0.89" font-style="italic">T</tspan><tspan x="18.70" font-style="italic">/</tspan><tspan x="27.50" font-style="italic">t</tspan><tspan x="45.25">=</tspan><tspan x="71.56">0.1</tspan></text></g>
<g id="ann_12" transform="matrix(1.00016 0 0 1.00016 -1.096 -0.003)"><text x="570.50" y="66.50" font-size="30.4" text-anchor="start" font-weight="normal" font-style="normal">12x12</text></g>
<g id="ann_OBC" transform="matrix(1.00025 0 0 1.00025 -0.146 0.480)"><text x="569.40" y="102.60" font-size="30.4" text-anchor="start" font-weight="normal" font-style="normal">OBC</text></g>
<g id="ann_U83"><text y="630.50" font-size="31"><tspan x="-0.33" font-style="italic">U</tspan><tspan x="23.50" font-style="italic">/</tspan><tspan x="31.80" font-style="italic">t</tspan><tspan x="49.55">=</tspan><tspan x="76.00">8.3</tspan></text></g>
<g id="ann_cut" transform="matrix(1.02578 0 0 1.02578 -14.739 -16.463)"><text x="569.20" y="630.40" font-size="30.4" text-anchor="start" font-weight="normal" font-style="normal">Cutoff</text></g>
<g id="ann_d3" transform="matrix(1.00026 0 0 1.00026 -0.159 0.333)"><text x="569.50" y="666.80" font-size="30.4" text-anchor="start" font-weight="normal" font-style="normal"><tspan dx="0" font-style="italic">d</tspan><tspan dx="2.0"> = </tspan>3</text></g>
<g id="lega0" transform="matrix(1.03120 0 0 1.03120 -8.966 -0.614)"><text x="253.00" y="28.50" font-size="25.5" text-anchor="start" font-weight="normal" font-style="normal">12x12 OBC</text></g>
<g id="lega1" transform="matrix(1.02390 0 0 1.02390 -7.099 -1.344)"><text x="253.00" y="65.00" font-size="25.5" text-anchor="start" font-weight="normal" font-style="normal">12x12 PBC</text></g>
<g id="lega2" transform="matrix(1.02340 0 0 1.02340 -5.974 -2.174)"><text x="253.00" y="101.50" font-size="25.5" text-anchor="start" font-weight="normal" font-style="normal">16x16 OBC</text></g>
<g id="lega3" transform="matrix(1.01598 0 0 1.01598 -4.082 -2.056)"><text x="253.00" y="138.00" font-size="25.5" text-anchor="start" font-weight="normal" font-style="normal">16x16 PBC</text></g>
<g id="legb0" transform="matrix(1.00659 0 0 1.00659 -5.294 0.430)"><text x="801.00" y="18.90" font-size="25.5" text-anchor="start" font-weight="normal" font-style="normal"><tspan dx="0" font-style="italic">T</tspan><tspan dx="0.5" font-style="italic">/</tspan><tspan dx="0.6" font-style="italic">t</tspan><tspan dx="4.5">=</tspan><tspan dx="6.0">0</tspan><tspan dx="0">,</tspan><tspan dx="7.0" font-style="italic">U</tspan><tspan dx="0.8" font-style="italic">/</tspan><tspan dx="0.6" font-style="italic">t</tspan><tspan dx="4.0">=</tspan><tspan dx="5.5">8</tspan></text></g>
<g id="legb1" transform="matrix(1.00659 0 0 1.00659 -5.294 0.665)"><text x="801.00" y="57.60" font-size="25.5" text-anchor="start" font-weight="normal" font-style="normal"><tspan dx="0" font-style="italic">T</tspan><tspan dx="0.5" font-style="italic">/</tspan><tspan dx="0.6" font-style="italic">t</tspan><tspan dx="4.5">=</tspan><tspan dx="6.0">0</tspan><tspan dx="0">,</tspan><tspan dx="7.0" font-style="italic">U</tspan><tspan dx="0.8" font-style="italic">/</tspan><tspan dx="0.6" font-style="italic">t</tspan><tspan dx="4.0">=</tspan><tspan dx="5.5">9</tspan></text></g>
<g id="legb2" transform="matrix(1.01148 0 0 1.01148 -10.220 0.488)"><text x="801.00" y="96.30" font-size="25.5" text-anchor="start" font-weight="normal" font-style="normal"><tspan dx="0" font-style="italic">T</tspan><tspan dx="0.5" font-style="italic">/</tspan><tspan dx="0.6" font-style="italic">t</tspan><tspan dx="4.5">=</tspan><tspan dx="6.0">0.1</tspan><tspan dx="0">,</tspan><tspan dx="7.0" font-style="italic">U</tspan><tspan dx="0.8" font-style="italic">/</tspan><tspan dx="0.6" font-style="italic">t</tspan><tspan dx="4.0">=</tspan><tspan dx="5.5">8</tspan></text></g>
<g id="legb3" transform="matrix(1.01151 0 0 1.01151 -10.251 -0.964)"><text x="801.00" y="135.00" font-size="25.5" text-anchor="start" font-weight="normal" font-style="normal"><tspan dx="0" font-style="italic">T</tspan><tspan dx="0.5" font-style="italic">/</tspan><tspan dx="0.6" font-style="italic">t</tspan><tspan dx="4.5">=</tspan><tspan dx="6.0">0.1</tspan><tspan dx="0">,</tspan><tspan dx="7.0" font-style="italic">U</tspan><tspan dx="0.8" font-style="italic">/</tspan><tspan dx="0.6" font-style="italic">t</tspan><tspan dx="4.0">=</tspan><tspan dx="5.5">9</tspan></text></g>
<g id="legc0" transform="matrix(1.01634 0 0 1.01634 -2.207 -10.009)"><text x="195.50" y="590.00" font-size="25.5" text-anchor="start" font-weight="normal" font-style="normal"><tspan dx="0" font-style="italic">d</tspan><tspan dx="4.5">=</tspan><tspan dx="5.5">3</tspan><tspan dx="0">,</tspan><tspan dx="7.0" font-style="italic">T</tspan><tspan dx="0.5" font-style="italic">/</tspan><tspan dx="0.6" font-style="italic">t</tspan><tspan dx="4.0">=</tspan><tspan dx="5.0">0.046</tspan></text></g>
<g id="legc0u" transform="matrix(1.08464 0 0 1.08464 -32.767 -48.121)"><text x="385.70" y="579.70" font-size="17" text-anchor="start" font-weight="normal" font-style="normal">+0.071</text></g>
<g id="legc0d" transform="matrix(1.06046 0 0 1.06046 -23.432 -35.654)"><text x="386.30" y="596.00" font-size="17" text-anchor="start" font-weight="normal" font-style="normal">−0.046</text></g>
<g id="legc1" transform="matrix(1.01634 0 0 1.01634 -2.207 -10.791)"><text x="195.50" y="637.50" font-size="25.5" text-anchor="start" font-weight="normal" font-style="normal"><tspan dx="0" font-style="italic">d</tspan><tspan dx="4.5">=</tspan><tspan dx="5.5">4</tspan><tspan dx="0">,</tspan><tspan dx="7.0" font-style="italic">T</tspan><tspan dx="0.5" font-style="italic">/</tspan><tspan dx="0.6" font-style="italic">t</tspan><tspan dx="4.0">=</tspan><tspan dx="5.0">0.048</tspan></text></g>
<g id="legc1u" transform="matrix(1.07872 0 0 1.07872 -30.451 -47.893)"><text x="385.70" y="627.20" font-size="17" text-anchor="start" font-weight="normal" font-style="normal">+0.065</text></g>
<g id="legc1d" transform="matrix(1.05972 0 0 1.05972 -23.139 -38.612)"><text x="386.30" y="643.50" font-size="17" text-anchor="start" font-weight="normal" font-style="normal">−0.048</text></g>
<g id="legc2" transform="matrix(1.01634 0 0 1.01634 -2.207 -11.561)"><text x="195.50" y="685.00" font-size="25.5" text-anchor="start" font-weight="normal" font-style="normal"><tspan dx="0" font-style="italic">d</tspan><tspan dx="4.5">=</tspan><tspan dx="5.5">6</tspan><tspan dx="0">,</tspan><tspan dx="7.0" font-style="italic">T</tspan><tspan dx="0.5" font-style="italic">/</tspan><tspan dx="0.6" font-style="italic">t</tspan><tspan dx="4.0">=</tspan><tspan dx="5.0">0.046</tspan></text></g>
<g id="legc2u" transform="matrix(1.07945 0 0 1.07945 -30.750 -52.632)"><text x="385.70" y="674.70" font-size="17" text-anchor="start" font-weight="normal" font-style="normal">+0.056</text></g>
<g id="legc2d" transform="matrix(1.06046 0 0 1.06046 -23.432 -41.398)"><text x="386.30" y="691.00" font-size="17" text-anchor="start" font-weight="normal" font-style="normal">−0.046</text></g>
<g id="legd0" transform="matrix(1.01912 0 0 1.01912 -14.292 -10.124)"><text x="745.50" y="589.50" font-size="25.5" text-anchor="start" font-weight="normal" font-style="normal"><tspan dx="0" font-style="italic">U</tspan><tspan dx="0.8" font-style="italic">/</tspan><tspan dx="0.6" font-style="italic">t</tspan><tspan dx="4.0">=</tspan><tspan dx="5.0">8.1</tspan><tspan dx="0">,</tspan><tspan dx="7.0" font-style="italic">T</tspan><tspan dx="0.5" font-style="italic">/</tspan><tspan dx="0.6" font-style="italic">t</tspan><tspan dx="4.0">=</tspan><tspan dx="5.0">0.04</tspan></text></g>
<g id="legd0u" transform="matrix(1.07926 0 0 1.07926 -76.346 -44.497)"><text x="962.30" y="579.80" font-size="17" text-anchor="start" font-weight="normal" font-style="normal">+0.072</text></g>
<g id="legd0d" transform="matrix(1.07208 0 0 1.07208 -69.437 -42.028)"><text x="962.30" y="596.00" font-size="17" text-anchor="start" font-weight="normal" font-style="normal">−0.04</text></g>
<g id="legd1" transform="matrix(1.02693 0 0 1.02693 -20.121 -15.937)"><text x="745.50" y="637.00" font-size="25.5" text-anchor="start" font-weight="normal" font-style="normal"><tspan dx="0" font-style="italic">U</tspan><tspan dx="0.8" font-style="italic">/</tspan><tspan dx="0.6" font-style="italic">t</tspan><tspan dx="4.0">=</tspan><tspan dx="5.0">8.3</tspan><tspan dx="0">,</tspan><tspan dx="7.0" font-style="italic">T</tspan><tspan dx="0.5" font-style="italic">/</tspan><tspan dx="0.6" font-style="italic">t</tspan><tspan dx="4.0">=</tspan><tspan dx="5.0">0.046</tspan></text></g>
<g id="legd1u" transform="matrix(1.10547 0 0 1.10547 -103.229 -65.029)"><text x="977.10" y="627.30" font-size="17" text-anchor="start" font-weight="normal" font-style="normal">+0.071</text></g>
<g id="legd1d" transform="matrix(1.05919 0 0 1.05919 -57.892 -37.254)"><text x="977.10" y="643.50" font-size="17" text-anchor="start" font-weight="normal" font-style="normal">−0.046</text></g>
<g id="legd2" transform="matrix(1.01798 0 0 1.01798 -13.434 -11.168)"><text x="745.50" y="684.50" font-size="25.5" text-anchor="start" font-weight="normal" font-style="normal"><tspan dx="0" font-style="italic">U</tspan><tspan dx="0.8" font-style="italic">/</tspan><tspan dx="0.6" font-style="italic">t</tspan><tspan dx="4.0">=</tspan><tspan dx="5.0">8.5</tspan><tspan dx="0">,</tspan><tspan dx="7.0" font-style="italic">T</tspan><tspan dx="0.5" font-style="italic">/</tspan><tspan dx="0.6" font-style="italic">t</tspan><tspan dx="4.0">=</tspan><tspan dx="5.0">0.052</tspan></text></g>
<g id="legd2u" transform="matrix(1.05959 0 0 1.05959 -58.288 -39.392)"><text x="977.10" y="674.80" font-size="17" text-anchor="start" font-weight="normal" font-style="normal">+0.069</text></g>
<g id="legd2d" transform="matrix(1.05959 0 0 1.05959 -58.288 -40.340)"><text x="977.10" y="691.00" font-size="17" text-anchor="start" font-weight="normal" font-style="normal">−0.052</text></g>
<g id="xl_a" transform="matrix(1.00144 0 0 1.00144 -1.410 -0.722)"><text x="297.00" y="527.50" font-size="25.5" text-anchor="middle" font-weight="normal" font-style="normal">|<tspan font-weight="bold">d</tspan>|</text></g>
<g id="xl_b" transform="matrix(0.95971 0 0 0.95971 33.442 20.468)"><text x="867.20" y="527.50" font-size="25.5" text-anchor="middle" font-weight="normal" font-style="normal">|<tspan font-weight="bold">d</tspan>|</text></g>
<g id="xl_c"><text y="1051.6" font-size="25.5" font-style="italic"><tspan x="280.55">T</tspan><tspan x="297.60">/</tspan><tspan x="304.55">t</tspan></text></g>
<g id="xl_d"><text y="1051.6" font-size="25.5" font-style="italic"><tspan x="849.35">T</tspan><tspan x="866.40">/</tspan><tspan x="873.35">t</tspan></text></g>
<g id="yl_a"><text transform="translate(25.60,350.30) rotate(-90)" font-size="25.5"><tspan x="-1.5" y="0">(</tspan><tspan x="6.05" y="0">−</tspan><tspan x="19.5" y="0">1</tspan><tspan x="33.15" y="0">)</tspan><tspan x="42.8" y="-9.9" font-size="15.8" font-style="italic">d</tspan><tspan x="53.8" y="0" font-style="italic">C</tspan><tspan x="73.9" y="-9.6" font-size="17.2" font-style="italic">zz</tspan><tspan x="72.75" y="6.9" font-size="17.9" font-weight="bold">d</tspan></text></g>
<g id="yl_b"><text transform="translate(595.60,350.30) rotate(-90)" font-size="25.5"><tspan x="-1.5" y="0">(</tspan><tspan x="6.05" y="0">−</tspan><tspan x="19.5" y="0">1</tspan><tspan x="33.15" y="0">)</tspan><tspan x="42.8" y="-9.9" font-size="15.8" font-style="italic">d</tspan><tspan x="53.8" y="0" font-style="italic">C</tspan><tspan x="73.9" y="-9.6" font-size="17.2" font-style="italic">zz</tspan><tspan x="72.75" y="6.9" font-size="17.9" font-weight="bold">d</tspan></text></g>
<g id="yl_c"><text transform="translate(19.10,874.20) rotate(-90)" font-size="25.5"><tspan x="-1.5" y="0">(</tspan><tspan x="4.7" y="0" font-style="italic">m</tspan><tspan x="26.8" y="-8.5" font-size="14" font-style="italic">z</tspan><tspan x="33.45" y="0">)</tspan><tspan x="40.35" y="-8.5" font-size="14">2</tspan></text></g>
<g id="yl_d"><text transform="translate(571.70,874.20) rotate(-90)" font-size="25.5"><tspan x="-1.5" y="0">(</tspan><tspan x="4.7" y="0" font-style="italic">m</tspan><tspan x="26.8" y="-8.5" font-size="14" font-style="italic">z</tspan><tspan x="33.45" y="0">)</tspan><tspan x="40.35" y="-8.5" font-size="14">2</tspan></text></g>
<g id="fix1"><rect x="76.82" y="309.74" width="5.60" height="5.26" fill="#fff"/><rect x="84.78" y="309.74" width="5.60" height="5.26" fill="#fff"/><rect x="76.82" y="372.11" width="5.60" height="5.26" fill="#fff"/><rect x="84.78" y="372.11" width="5.60" height="5.26" fill="#fff"/><rect x="411.03" y="481.99" width="5.63" height="5.26" fill="#fff"/><rect x="419.02" y="481.99" width="5.63" height="5.26" fill="#fff"/><rect x="647.32" y="331.19" width="5.60" height="5.26" fill="#fff"/><rect x="655.28" y="331.19" width="5.60" height="5.26" fill="#fff"/><rect x="647.32" y="403.34" width="5.60" height="5.26" fill="#fff"/><rect x="655.28" y="403.34" width="5.60" height="5.26" fill="#fff"/><rect x="700.90" y="481.99" width="5.63" height="5.26" fill="#fff"/><rect x="708.89" y="481.99" width="5.63" height="5.26" fill="#fff"/><rect x="78.12" y="885.69" width="5.60" height="5.26" fill="#fff"/><rect x="86.08" y="885.69" width="5.60" height="5.26" fill="#fff"/><rect x="78.12" y="958.44" width="5.60" height="5.26" fill="#fff"/><rect x="86.08" y="958.44" width="5.60" height="5.26" fill="#fff"/><rect x="295.43" y="1007.99" width="5.63" height="5.26" fill="#fff"/><rect x="303.42" y="1007.99" width="5.63" height="5.26" fill="#fff"/><rect x="378.13" y="1007.99" width="5.63" height="5.26" fill="#fff"/><rect x="386.12" y="1007.99" width="5.63" height="5.26" fill="#fff"/><rect x="633.27" y="935.69" width="5.60" height="5.26" fill="#fff"/><rect x="641.22" y="935.69" width="5.60" height="5.26" fill="#fff"/><rect x="864.53" y="1007.99" width="5.63" height="5.26" fill="#fff"/><rect x="872.52" y="1007.99" width="5.63" height="5.26" fill="#fff"/><rect x="947.53" y="1007.99" width="5.63" height="5.26" fill="#fff"/><rect x="955.52" y="1007.99" width="5.63" height="5.26" fill="#fff"/><rect x="98.34" y="99.34" width="6.86" height="6.58" fill="#fff"/><rect x="108.09" y="99.34" width="6.86" height="6.58" fill="#fff"/><rect x="570.41" y="62.85" width="6.67" height="6.39" fill="#fff"/><rect x="579.88" y="62.85" width="6.67" height="6.39" fill="#fff"/><rect x="619.40" y="62.85" width="6.67" height="6.39" fill="#fff"/><rect x="628.87" y="62.85" width="6.67" height="6.39" fill="#fff"/><rect x="252.70" y="25.67" width="5.66" height="5.43" fill="#fff"/><rect x="260.74" y="25.67" width="5.66" height="5.43" fill="#fff"/><rect x="295.10" y="25.67" width="5.66" height="5.43" fill="#fff"/><rect x="303.13" y="25.67" width="5.66" height="5.43" fill="#fff"/><rect x="252.72" y="62.13" width="5.62" height="5.39" fill="#fff"/><rect x="260.70" y="62.13" width="5.62" height="5.39" fill="#fff"/><rect x="294.81" y="62.13" width="5.62" height="5.39" fill="#fff"/><rect x="302.79" y="62.13" width="5.62" height="5.39" fill="#fff"/><rect x="253.72" y="98.62" width="5.62" height="5.39" fill="#fff"/><rect x="261.69" y="98.62" width="5.62" height="5.39" fill="#fff"/><rect x="295.79" y="98.62" width="5.62" height="5.39" fill="#fff"/><rect x="303.77" y="98.62" width="5.62" height="5.39" fill="#fff"/><rect x="253.72" y="135.09" width="5.58" height="5.35" fill="#fff"/><rect x="261.65" y="135.09" width="5.58" height="5.35" fill="#fff"/><rect x="295.49" y="135.09" width="5.58" height="5.35" fill="#fff"/><rect x="303.41" y="135.09" width="5.58" height="5.35" fill="#fff"/><rect x="879.16" y="94.85" width="5.55" height="5.32" fill="#fff"/><rect x="887.05" y="94.85" width="5.55" height="5.32" fill="#fff"/><rect x="879.16" y="132.55" width="5.55" height="5.32" fill="#fff"/><rect x="887.04" y="132.55" width="5.55" height="5.32" fill="#fff"/><rect x="432.77" y="578.43" width="4.04" height="3.87" fill="#fff"/><rect x="438.51" y="578.43" width="4.04" height="3.87" fill="#fff"/><rect x="826.92" y="587.58" width="5.59" height="5.36" fill="#fff"/><rect x="834.87" y="587.58" width="5.59" height="5.36" fill="#fff"/><rect x="1025.02" y="626.18" width="4.12" height="3.95" fill="#fff"/><rect x="1030.87" y="626.18" width="4.12" height="3.95" fill="#fff"/><rect x="22.59" y="324.56" width="5.26" height="5.49" fill="#fff"/><rect x="22.59" y="316.76" width="5.26" height="5.49" fill="#fff"/><rect x="592.59" y="324.56" width="5.26" height="5.49" fill="#fff"/><rect x="592.59" y="316.76" width="5.26" height="5.49" fill="#fff"/></g>
</svg>
</body></html>
